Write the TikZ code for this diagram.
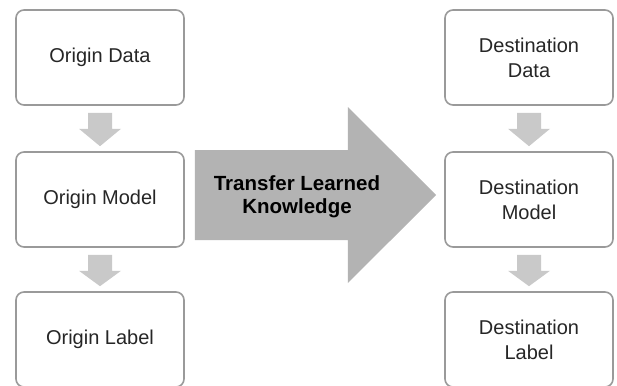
\documentclass[tikz,border=0pt]{standalone}
\usepackage{fontspec}
\setmainfont{Liberation Sans}
\usetikzlibrary{positioning,calc}
\definecolor{boxgray}{HTML}{9A9A9A}
\definecolor{stepgray}{HTML}{C9C9C9}
\definecolor{biggray}{HTML}{B3B3B3}
\begin{document}
\begin{tikzpicture}[
x=1pt, y=-1pt,
boxnode/.style={rectangle, rounded corners=8pt, draw=boxgray, line width=1.6pt, fill=white,
  minimum width=168pt, minimum height=95pt, align=center, text=black!85,
  font=\fontsize{20}{25}\selectfont},
downarr/.style={fill=stepgray},
bigarr/.style={fill=biggray},
]
\useasboundingbox (0,0) rectangle (617,385);
%Nodes
\node[boxnode](odata) at (100,57.5){Origin Data};
\node[boxnode](omodel) at (100,199.5){Origin Model};
\node[boxnode](olabel) at (100,339.5){Origin Label};
\node[boxnode](ddata) at (529,57.5){Destination\\Data};
\node[boxnode](dmodel) at (529,199.5){Destination\\Model};
\node[boxnode](dlabel) at (529,339.5){Destination\\Label};
%Small arrows
\foreach \a/\b in {odata/omodel, omodel/olabel, ddata/dmodel, dmodel/dlabel}{
  \fill[downarr] ($(\a.south)+(-12,7)$) -- ++(24,0) -- ++(0,16) -- ++(9,0)
    -- ($(\b.north)+(0,-5)$) -- ($(\a.south)+(-21,23)$) -- ++(9,0) -- cycle;
}
%Big arrow
\coordinate (tstart) at ($(omodel.east)+(10,-4.5)$);
\coordinate (tend) at ($(dmodel.west)+(-8,-4.5)$);
\fill[bigarr] ($(tstart)+(0,-45)$) -- ($(tstart)+(153,-45)$) -- ($(tstart)+(153,-88)$)
  -- (tend) -- ($(tstart)+(153,88)$) -- ($(tstart)+(153,45)$) -- ($(tstart)+(0,45)$) -- cycle;
\node[font=\bfseries\fontsize{20.5}{23}\selectfont, align=center](transfer) at (297,197)
  {Transfer Learned\\Knowledge};
\end{tikzpicture}
\end{document}
